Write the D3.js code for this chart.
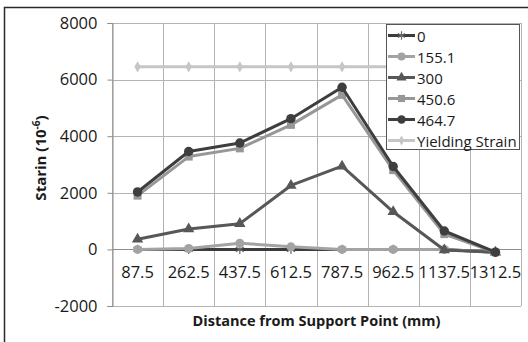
<!DOCTYPE html>
<html>
<head>
<meta charset="utf-8">
<script src="https://cdn.jsdelivr.net/npm/d3@7"></script>
<style>
  html, body { margin: 0; padding: 0; background: #fff; }
  svg { display: block; }
  text { font-family: "Open Sans", "Noto Sans", sans-serif; fill: #1a1a1a; }
</style>
</head>
<body>
<svg id="chart" width="528" height="342"></svg>
<script>
// Distance of each gauge from the support point (mm)
const distances = ["87.5", "262.5", "437.5", "612.5", "787.5", "962.5", "1137.5", "1312.5"];

// Strain readings (10^-6) for each load level
const load0    = [0, 0, 0, 0, 0, 0, 0, -100];
const load1551 = [0, 30, 220, 90, 0, 0, 0, -100];
const load300  = [360, 720, 910, 2260, 2940, 1330, -20, -100];
const load4506 = [1900, 3280, 3570, 4400, 5460, 2800, 540, -100];
const load4647 = [2030, 3460, 3760, 4620, 5730, 2930, 650, -100];
const yielding = [6450, 6450, 6450, 6450, 6450, 6450, 6450, 6450];

const seriesNames = ["0", "155.1", "300", "450.6", "464.7", "Yielding Strain"];
const yTicks = [-2000, 0, 2000, 4000, 6000, 8000];

const series = [
  { name: seriesNames[0], values: load0,    color: "#3c3c3c", mark: "#6a6a6a", symbol: d3.symbolAsterisk, size: 60, stroke: true },
  { name: seriesNames[1], values: load1551, color: "#a3a3a3", mark: "#a3a3a3", symbol: d3.symbolCircle,   size: 64 },
  { name: seriesNames[2], values: load300,  color: "#575757", mark: "#575757", symbol: d3.symbolTriangle, size: 56 },
  { name: seriesNames[3], values: load4506, color: "#979797", mark: "#979797", symbol: d3.symbolSquare,   size: 64 },
  { name: seriesNames[4], values: load4647, color: "#3e3e3e", mark: "#3e3e3e", symbol: d3.symbolCircle,   size: 70 },
  { name: seriesNames[5], values: yielding, color: "#c6c6c6", mark: "#c6c6c6", symbol: d3.symbolDiamond,  size: 36 }
];

const svg = d3.select("#chart");
const plot = { left: 112, right: 521, top: 23, bottom: 306 };

// Outer chart frame
svg.append("path")
  .attr("d", "M4.5,342 V7.5 H528")
  .attr("fill", "none")
  .attr("stroke", "#2a2a2a")
  .attr("stroke-width", 1.5);

const x = d3.scaleBand().domain(distances).range([plot.left, plot.right]);
const y = d3.scaleLinear().domain([-2000, 8000]).range([plot.bottom, plot.top]);

// Horizontal gridlines
svg.append("g")
  .selectAll("line")
  .data(yTicks)
  .join("line")
  .attr("x1", plot.left).attr("x2", plot.right)
  .attr("y1", d => Math.round(y(d)) + 0.5).attr("y2", d => Math.round(y(d)) + 0.5)
  .attr("stroke", d => d === 0 ? "#8c8c8c" : "#b3b3b3")
  .attr("stroke-width", 1);

// Vertical gridlines at category boundaries
const bounds = distances.map(d => x(d)).concat([x(distances[distances.length - 1]) + x.bandwidth()]);
svg.append("g")
  .selectAll("line")
  .data(bounds)
  .join("line")
  .attr("x1", d => Math.round(d) + 0.5).attr("x2", d => Math.round(d) + 0.5)
  .attr("y1", plot.top).attr("y2", plot.bottom)
  .attr("stroke", "#b3b3b3")
  .attr("stroke-width", 1);

// Value axis with outward ticks
const yAxis = svg.append("g")
  .attr("transform", `translate(${plot.left + 0.5},0)`)
  .call(d3.axisLeft(y).tickValues(yTicks).tickSize(5).tickPadding(10).tickFormat(d => String(d)));
yAxis.select(".domain").attr("stroke", "#8c8c8c");
yAxis.selectAll(".tick line").attr("stroke", "#8c8c8c");
yAxis.selectAll("text")
  .style("font-family", "'Open Sans', sans-serif")
  .style("font-size", "16.5px")
  .attr("fill", "#1a1a1a");

// Category labels just below the zero line
svg.append("g")
  .selectAll("text")
  .data(distances)
  .join("text")
  .attr("x", d => x(d) + x.bandwidth() / 2)
  .attr("y", y(0) + 29)
  .attr("text-anchor", "middle")
  .style("font-size", "16.5px")
  .text(d => d);

// Series lines and markers
const line = d3.line()
  .x((d, i) => x(distances[i]) + x.bandwidth() / 2)
  .y(d => y(d));

series.forEach(s => {
  const g = svg.append("g");
  g.append("path")
    .datum(s.values)
    .attr("d", line)
    .attr("fill", "none")
    .attr("stroke", s.color)
    .attr("stroke-width", 3)
    .attr("stroke-linejoin", "round");
  g.selectAll("path.mk")
    .data(s.values)
    .join("path")
    .attr("class", "mk")
    .attr("transform", (d, i) => `translate(${x(distances[i]) + x.bandwidth() / 2},${y(d)})`)
    .attr("d", d3.symbol().type(s.symbol).size(s.size))
    .attr("fill", s.stroke ? "none" : s.mark)
    .attr("stroke", s.stroke ? s.mark : "none")
    .attr("stroke-width", s.stroke ? 1.2 : 0);
});

// Legend
const legend = svg.append("g");
legend.append("rect")
  .attr("x", 386.5).attr("y", 24.5)
  .attr("width", 133).attr("height", 125)
  .attr("fill", "#fff")
  .attr("stroke", "#555")
  .attr("stroke-width", 1);

series.forEach((s, i) => {
  const cy = 35.5 + i * 21;
  const row = legend.append("g");
  row.append("line")
    .attr("x1", 388).attr("x2", 415)
    .attr("y1", cy).attr("y2", cy)
    .attr("stroke", s.color).attr("stroke-width", 3);
  row.append("path")
    .attr("transform", `translate(401.5,${cy})`)
    .attr("d", d3.symbol().type(s.symbol).size(s.size * 0.8))
    .attr("fill", s.stroke ? "none" : s.mark)
    .attr("stroke", s.stroke ? s.mark : "none")
    .attr("stroke-width", s.stroke ? 1.2 : 0);
  row.append("text")
    .attr("x", 417).attr("y", cy + 6)
    .style("font-size", "15px")
    .text(s.name);
});

// Axis titles
svg.append("text")
  .attr("x", (plot.left + plot.right) / 2)
  .attr("y", 326)
  .attr("text-anchor", "middle")
  .attr("textLength", 248)
  .attr("lengthAdjust", "spacingAndGlyphs")
  .style("font-size", "15px")
  .style("font-weight", "bold")
  .text("Distance from Support Point (mm)");

const yTitle = svg.append("text")
  .attr("transform", "translate(46,158) rotate(-90)")
  .attr("text-anchor", "middle")
  .style("font-size", "15px")
  .style("font-weight", "bold");
yTitle.append("tspan").text("Starin (10");
yTitle.append("tspan").attr("dy", -6).style("font-size", "10px").text("-6");
yTitle.append("tspan").attr("dy", 6).text(")");
</script>
</body>
</html>
